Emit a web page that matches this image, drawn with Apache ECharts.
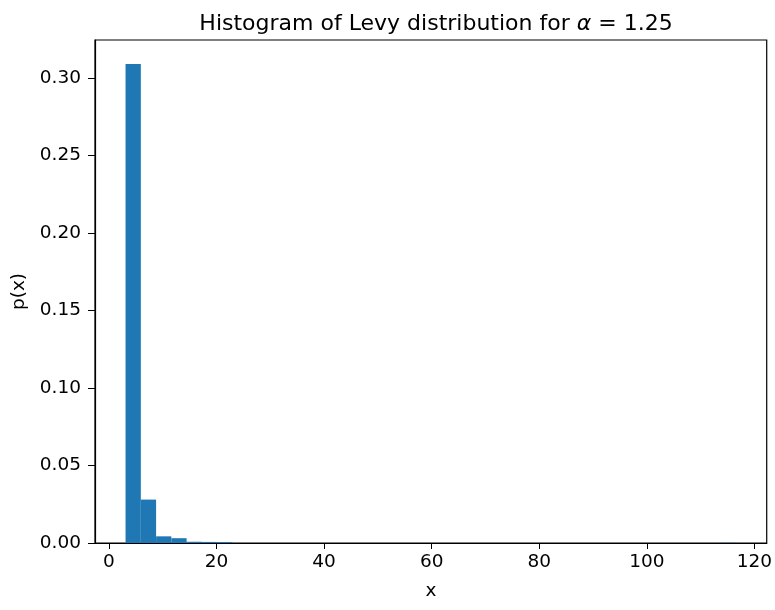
<!DOCTYPE html>
<html>
<head>
<meta charset="utf-8">
<script src="https://cdn.jsdelivr.net/npm/echarts@6/dist/echarts.min.js"></script>
<style>
  html, body { margin: 0; padding: 0; background: #fff; }
  #main { width: 775px; height: 610px; }
</style>
</head>
<body>
<div id="main"></div>
<script>
// histogram bins: first edge and width, density per bin (40 bins)
var binStart = 3.08;
var binWidth = 2.84;
var density = [
  0.309, 0.028, 0.0043, 0.0031, 0.0008, 0.0007, 0.0006, 0,
  0, 0, 0, 0, 0, 0, 0, 0, 0, 0, 0, 0,
  0, 0, 0, 0, 0, 0, 0, 0, 0, 0, 0, 0,
  0, 0, 0, 0, 0, 0, 0, 0.0001
];
var xTicks = [0, 20, 40, 60, 80, 100, 120];
var yTicks = [0, 0.05, 0.10, 0.15, 0.20, 0.25, 0.30];

var bins = density.map(function (d, i) {
  return [binStart + i * binWidth, binStart + (i + 1) * binWidth, d];
});

var font = 'DejaVu Sans';
var myChart = echarts.init(document.getElementById('main'));
var option = {
  animation: false,
  backgroundColor: '#fff',
  title: {
    text: 'Histogram of Levy distribution for {i|α} = 1.25',
    left: 431,
    top: 8,
    textAlign: 'center',
    textStyle: {
      fontFamily: font, fontSize: 22, fontWeight: 'normal', color: '#000',
      rich: {
        i: { fontFamily: font, fontSize: 22, fontStyle: 'italic', color: '#000' }
      }
    }
  },
  grid: {
    left: 95, right: 7, top: 40, bottom: 67,
    show: true, borderColor: '#000', borderWidth: 1.2, backgroundColor: '#fff'
  },
  xAxis: {
    type: 'value',
    min: -2.6,
    max: 122.3,
    name: 'x',
    nameLocation: 'middle',
    nameGap: 39,
    nameTextStyle: { fontFamily: font, fontSize: 18.5, color: '#000' },
    splitLine: { show: false },
    axisLine: { show: true, onZero: false, lineStyle: { color: '#000', width: 1.2 } },
    axisTick: { show: true, length: 6, customValues: xTicks, lineStyle: { color: '#000' } },
    axisLabel: {
      customValues: xTicks, margin: 10,
      fontFamily: font, fontSize: 18.5, color: '#000'
    }
  },
  yAxis: {
    type: 'value',
    min: 0,
    max: 0.3245,
    name: 'p(x)',
    nameLocation: 'middle',
    nameGap: 62,
    nameTextStyle: { fontFamily: font, fontSize: 18.5, color: '#000' },
    splitLine: { show: false },
    axisLine: { show: true, onZero: false, lineStyle: { color: '#000', width: 1.2 } },
    axisTick: { show: true, length: 7, customValues: yTicks, lineStyle: { color: '#000' } },
    axisLabel: {
      customValues: yTicks, margin: 14,
      fontFamily: font, fontSize: 18.5, color: '#000',
      formatter: function (v) { return v.toFixed(2); }
    }
  },
  series: [{
    type: 'custom',
    data: bins,
    encode: { x: [0, 1], y: 2 },
    renderItem: function (params, api) {
      var p0 = api.coord([api.value(0), api.value(2)]);
      var p1 = api.coord([api.value(1), 0]);
      return {
        type: 'rect',
        shape: { x: p0[0], y: p0[1], width: p1[0] - p0[0], height: p1[1] - p0[1] },
        style: { fill: '#1f77b4' }
      };
    }
  }]
};
myChart.setOption(option);
</script>
</body>
</html>
